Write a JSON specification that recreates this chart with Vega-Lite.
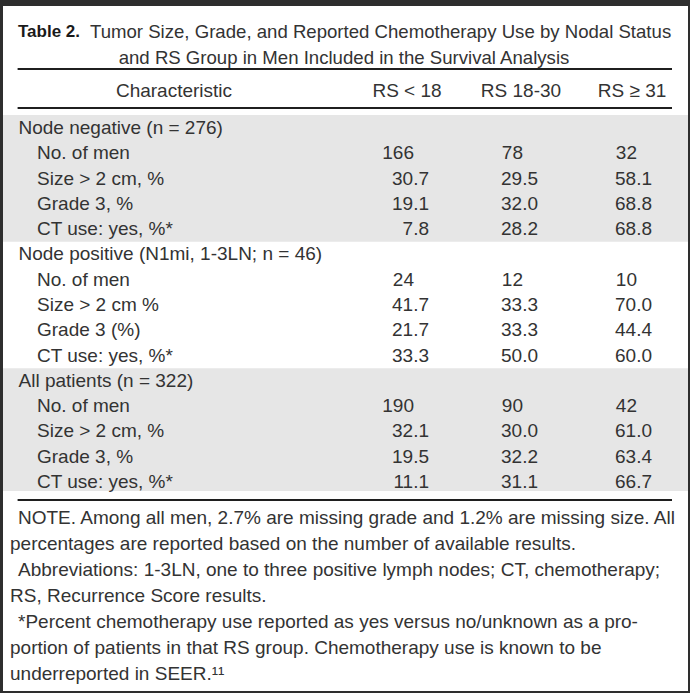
{
  "$schema": "https://vega.github.io/schema/vega-lite/v6.json",
  "width": 685,
  "height": 685,
  "autosize": {"type": "none"},
  "padding": {"left": 3, "top": 6, "right": 2, "bottom": 2},
  "background": "#2e2e2e",
  "config": {"view": {"fill": "white", "stroke": null}},
  "datasets": {
    "bands": [
      {"group": "Node negative", "top": 3.5, "bottom": 8.5},
      {"group": "All patients", "top": 13.5, "bottom": 18.5}
    ],
    "rules": [
      {"rule": "below title", "line": 2.5},
      {"rule": "below header", "line": 3.45},
      {"rule": "table end", "line": 18.75}
    ],
    "title": [
      {"line": 1, "part": 0, "text": "Table 2."},
      {"line": 1, "part": 1, "text": "Tumor Size, Grade, and Reported Chemotherapy Use by Nodal Status"},
      {"line": 2, "part": 2, "text": "and RS Group in Men Included in the Survival Analysis"}
    ],
    "header": [
      {"line": 3, "col": 0, "text": "Characteristic"},
      {"line": 3, "col": 1, "text": "RS < 18"},
      {"line": 3, "col": 2, "text": "RS 18-30"},
      {"line": 3, "col": 3, "text": "RS ≥ 31"}
    ],
    "labels": [
      {"line": 4, "level": 0, "label": "Node negative (n = 276)"},
      {"line": 5, "level": 1, "label": "No. of men"},
      {"line": 6, "level": 1, "label": "Size > 2 cm, %"},
      {"line": 7, "level": 1, "label": "Grade 3, %"},
      {"line": 8, "level": 1, "label": "CT use: yes, %*"},
      {"line": 9, "level": 0, "label": "Node positive (N1mi, 1-3LN; n = 46)"},
      {"line": 10, "level": 1, "label": "No. of men"},
      {"line": 11, "level": 1, "label": "Size > 2 cm %"},
      {"line": 12, "level": 1, "label": "Grade 3 (%)"},
      {"line": 13, "level": 1, "label": "CT use: yes, %*"},
      {"line": 14, "level": 0, "label": "All patients (n = 322)"},
      {"line": 15, "level": 1, "label": "No. of men"},
      {"line": 16, "level": 1, "label": "Size > 2 cm, %"},
      {"line": 17, "level": 1, "label": "Grade 3, %"},
      {"line": 18, "level": 1, "label": "CT use: yes, %*"}
    ],
    "values": [
      {"line": 5, "col": 1, "kind": "count", "value": 166},
      {"line": 5, "col": 2, "kind": "count", "value": 78},
      {"line": 5, "col": 3, "kind": "count", "value": 32},
      {"line": 6, "col": 1, "kind": "pct", "value": 30.7},
      {"line": 6, "col": 2, "kind": "pct", "value": 29.5},
      {"line": 6, "col": 3, "kind": "pct", "value": 58.1},
      {"line": 7, "col": 1, "kind": "pct", "value": 19.1},
      {"line": 7, "col": 2, "kind": "pct", "value": 32.0},
      {"line": 7, "col": 3, "kind": "pct", "value": 68.8},
      {"line": 8, "col": 1, "kind": "pct", "value": 7.8},
      {"line": 8, "col": 2, "kind": "pct", "value": 28.2},
      {"line": 8, "col": 3, "kind": "pct", "value": 68.8},
      {"line": 10, "col": 1, "kind": "count", "value": 24},
      {"line": 10, "col": 2, "kind": "count", "value": 12},
      {"line": 10, "col": 3, "kind": "count", "value": 10},
      {"line": 11, "col": 1, "kind": "pct", "value": 41.7},
      {"line": 11, "col": 2, "kind": "pct", "value": 33.3},
      {"line": 11, "col": 3, "kind": "pct", "value": 70.0},
      {"line": 12, "col": 1, "kind": "pct", "value": 21.7},
      {"line": 12, "col": 2, "kind": "pct", "value": 33.3},
      {"line": 12, "col": 3, "kind": "pct", "value": 44.4},
      {"line": 13, "col": 1, "kind": "pct", "value": 33.3},
      {"line": 13, "col": 2, "kind": "pct", "value": 50.0},
      {"line": 13, "col": 3, "kind": "pct", "value": 60.0},
      {"line": 15, "col": 1, "kind": "count", "value": 190},
      {"line": 15, "col": 2, "kind": "count", "value": 90},
      {"line": 15, "col": 3, "kind": "count", "value": 42},
      {"line": 16, "col": 1, "kind": "pct", "value": 32.1},
      {"line": 16, "col": 2, "kind": "pct", "value": 30.0},
      {"line": 16, "col": 3, "kind": "pct", "value": 61.0},
      {"line": 17, "col": 1, "kind": "pct", "value": 19.5},
      {"line": 17, "col": 2, "kind": "pct", "value": 32.2},
      {"line": 17, "col": 3, "kind": "pct", "value": 63.4},
      {"line": 18, "col": 1, "kind": "pct", "value": 11.1},
      {"line": 18, "col": 2, "kind": "pct", "value": 31.1},
      {"line": 18, "col": 3, "kind": "pct", "value": 66.7}
    ],
    "notes": [
      {"line": 19, "first": 1, "text": "NOTE. Among all men, 2.7% are missing grade and 1.2% are missing size. All"},
      {"line": 20, "first": 0, "text": "percentages are reported based on the number of available results."},
      {"line": 21, "first": 1, "text": "Abbreviations: 1-3LN, one to three positive lymph nodes; CT, chemotherapy;"},
      {"line": 22, "first": 0, "text": "RS, Recurrence Score results."},
      {"line": 23, "first": 1, "text": "*Percent chemotherapy use reported as yes versus no/unknown as a pro-"},
      {"line": 24, "first": 0, "text": "portion of patients in that RS group. Chemotherapy use is known to be"},
      {"line": 25, "first": 0, "text": "underreported in SEER.¹¹"}
    ]
  },
  "encoding": {
    "y": {
      "field": "line",
      "type": "quantitative",
      "scale": {
        "domain": [1, 2, 2.5, 3, 3.45, 3.5, 4, 18, 18.5, 18.75, 19, 25],
        "range": [26, 52, 63, 85, 102, 109, 122, 476, 485, 494, 512, 668],
        "nice": false,
        "zero": false
      },
      "axis": null
    }
  },
  "layer": [
    {
      "data": {"name": "bands"},
      "mark": {"type": "rect", "fill": "#e6e6e6"},
      "encoding": {
        "y": {"field": "top", "type": "quantitative", "axis": null},
        "y2": {"field": "bottom"}
      }
    },
    {
      "data": {"name": "rules"},
      "mark": {"type": "rule", "stroke": "#1f1f1f", "strokeWidth": 2},
      "encoding": {
        "x": {"datum": 0, "type": "quantitative", "scale": {"domain": [0, 1], "range": [14.6, 669]}, "axis": null},
        "x2": {"datum": 1}
      }
    },
    {
      "data": {"name": "title"},
      "transform": [{"filter": "datum.part == 0"}],
      "mark": {"type": "text", "align": "left", "baseline": "middle", "font": "Liberation Sans", "fontWeight": "bold", "fontSize": 17, "fill": "#1a1a1a"},
      "encoding": {
        "x": {"field": "part", "type": "quantitative", "scale": {"domain": [0, 1, 2], "range": [15, 87, 341]}, "axis": null},
        "text": {"field": "text"}
      }
    },
    {
      "data": {"name": "title"},
      "transform": [{"filter": "datum.part == 1"}],
      "mark": {"type": "text", "align": "left", "baseline": "middle", "font": "Liberation Sans", "fontSize": 18.6, "fill": "#333333"},
      "encoding": {
        "x": {"field": "part", "type": "quantitative", "scale": {"domain": [0, 1, 2], "range": [15, 87, 341]}, "axis": null},
        "text": {"field": "text"}
      }
    },
    {
      "data": {"name": "title"},
      "transform": [{"filter": "datum.part == 2"}],
      "mark": {"type": "text", "align": "center", "baseline": "middle", "font": "Liberation Sans", "fontSize": 18.6, "fill": "#333333"},
      "encoding": {
        "x": {"field": "part", "type": "quantitative", "scale": {"domain": [0, 1, 2], "range": [15, 87, 341]}, "axis": null},
        "text": {"field": "text"}
      }
    },
    {
      "data": {"name": "header"},
      "mark": {"type": "text", "align": "center", "baseline": "middle", "font": "Liberation Sans", "fontSize": 19, "fill": "#333333"},
      "encoding": {
        "x": {"field": "col", "type": "quantitative", "scale": {"domain": [0, 1, 2, 3], "range": [171, 404, 518, 629]}, "axis": null},
        "text": {"field": "text"}
      }
    },
    {
      "data": {"name": "labels"},
      "mark": {"type": "text", "align": "left", "baseline": "middle", "font": "Liberation Sans", "fontSize": 19, "fill": "#333333"},
      "encoding": {
        "x": {"field": "level", "type": "quantitative", "scale": {"domain": [0, 1], "range": [15.5, 34]}, "axis": null},
        "text": {"field": "label"}
      }
    },
    {
      "data": {"name": "values"},
      "transform": [{"filter": "datum.kind == 'count'"}],
      "mark": {"type": "text", "align": "right", "baseline": "middle", "dx": -15, "font": "Liberation Sans", "fontSize": 19, "fill": "#333333"},
      "encoding": {
        "x": {"field": "col", "type": "quantitative", "scale": {"domain": [1, 2, 3], "range": [426, 535, 649]}, "axis": null},
        "text": {"field": "value", "type": "quantitative", "format": "d"}
      }
    },
    {
      "data": {"name": "values"},
      "transform": [{"filter": "datum.kind == 'pct'"}],
      "mark": {"type": "text", "align": "right", "baseline": "middle", "font": "Liberation Sans", "fontSize": 19, "fill": "#333333"},
      "encoding": {
        "x": {"field": "col", "type": "quantitative", "scale": {"domain": [1, 2, 3], "range": [426, 535, 649]}, "axis": null},
        "text": {"field": "value", "type": "quantitative", "format": ".1f"}
      }
    },
    {
      "data": {"name": "notes"},
      "mark": {"type": "text", "align": "left", "baseline": "middle", "font": "Liberation Sans", "fontSize": 19, "fill": "#333333"},
      "encoding": {
        "x": {"field": "first", "type": "quantitative", "scale": {"domain": [0, 1], "range": [7, 15]}, "axis": null},
        "text": {"field": "text"}
      }
    }
  ],
  "resolve": {"scale": {"x": "independent"}}
}
